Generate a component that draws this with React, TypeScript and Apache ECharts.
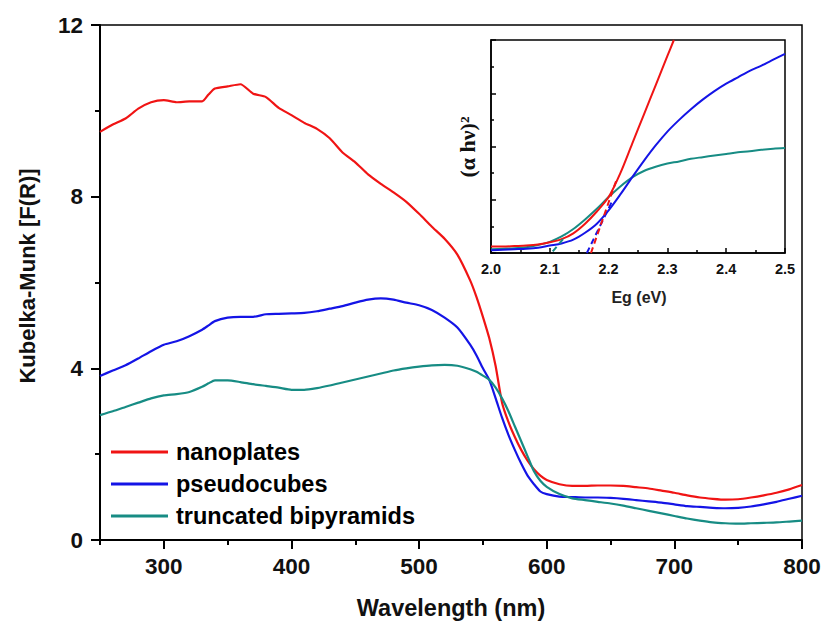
import React, { useEffect, useRef } from "react";
import * as echarts from "echarts";

// ---------- main chart data ----------
const wavelengths = [
  250, 260, 270, 280, 290, 300, 310, 320, 330, 335, 340, 350, 360, 370, 380, 390, 400,
  410, 420, 430, 440, 450, 460, 470, 480, 490, 500, 510, 520, 530, 540, 545, 550,
  555, 560, 565, 570, 575, 580, 585, 590, 595, 600, 610, 620, 630, 640, 650, 660,
  670, 680, 690, 700, 710, 720, 730, 740, 750, 760, 770, 780, 790, 800,
];
const nanoplates = [
  9.51, 9.68, 9.82, 10.05, 10.2, 10.25, 10.2, 10.22, 10.22, 10.38, 10.52, 10.57, 10.62, 10.4, 10.32, 10.07, 9.9,
  9.72, 9.58, 9.36, 9.03, 8.8, 8.52, 8.3, 8.1, 7.88, 7.6, 7.3, 7.02, 6.65, 6.05, 5.66, 5.2,
  4.7, 4.05, 3.2, 2.75, 2.4, 2.1, 1.85, 1.65, 1.5, 1.4, 1.3, 1.26, 1.26, 1.27, 1.27, 1.26,
  1.23, 1.2, 1.15, 1.1, 1.04, 0.99, 0.96, 0.94, 0.95, 0.99, 1.04, 1.1, 1.18, 1.28,
];
const pseudocubes = [
  3.82, 3.95, 4.07, 4.23, 4.4, 4.55, 4.63, 4.75, 4.9, 5.0, 5.1, 5.18, 5.2, 5.2, 5.26, 5.27, 5.28,
  5.29, 5.33, 5.39, 5.45, 5.53, 5.6, 5.63, 5.6, 5.53, 5.47, 5.36, 5.18, 4.95, 4.55, 4.3, 4.0,
  3.73, 3.3, 2.85, 2.45, 2.1, 1.78, 1.5, 1.3, 1.13, 1.07, 1.01, 1.0, 0.99, 0.99, 0.98, 0.96,
  0.93, 0.9, 0.87, 0.83, 0.79, 0.77, 0.75, 0.74, 0.75, 0.78, 0.83, 0.89, 0.96, 1.03,
];
const bipyramids = [
  2.91, 3.0, 3.1, 3.2, 3.3, 3.37, 3.4, 3.45, 3.57, 3.65, 3.72, 3.72, 3.68, 3.63, 3.59, 3.55, 3.5,
  3.5, 3.54, 3.6, 3.67, 3.74, 3.81, 3.88, 3.95, 4.0, 4.04, 4.07, 4.08, 4.06, 3.98, 3.92, 3.83,
  3.73, 3.55, 3.3, 3.0, 2.65, 2.3, 1.95, 1.6, 1.38, 1.24, 1.07, 0.97, 0.93, 0.89, 0.85, 0.8,
  0.74, 0.68, 0.62, 0.56, 0.5, 0.45, 0.41, 0.39, 0.38, 0.39, 0.4, 0.41, 0.43, 0.45,
];
const seriesNames = ["nanoplates", "pseudocubes", "truncated bipyramids"];
const xMajorTicks = [300, 400, 500, 600, 700, 800];

// ---------- inset data ----------
const insetEg = [
  2.0, 2.02, 2.04, 2.06, 2.08, 2.1, 2.12, 2.14, 2.16, 2.18, 2.2, 2.22, 2.24,
  2.26, 2.28, 2.3, 2.32, 2.34, 2.36, 2.38, 2.4, 2.42, 2.44, 2.46, 2.48, 2.5,
];
const insetRedEg = [2.0, 2.02, 2.04, 2.06, 2.08, 2.1, 2.12, 2.14, 2.16, 2.18, 2.2, 2.22, 2.24, 2.26, 2.28, 2.3, 2.311];
const insetRed = [0.12, 0.12, 0.13, 0.14, 0.16, 0.2, 0.26, 0.37, 0.55, 0.78, 1.05, 1.5, 2.05, 2.6, 3.15, 3.7, 4.0];
const insetBlue = [
  0.05, 0.06, 0.07, 0.08, 0.1, 0.14, 0.18, 0.25, 0.38, 0.55, 0.8, 1.1, 1.42,
  1.73, 2.02, 2.28, 2.5, 2.7, 2.88, 3.04, 3.18, 3.3, 3.42, 3.52, 3.63, 3.74,
];
const insetTeal = [
  0.07, 0.08, 0.09, 0.11, 0.15, 0.21, 0.31, 0.45, 0.63, 0.83, 1.05, 1.25, 1.42,
  1.54, 1.62, 1.68, 1.72, 1.77, 1.8, 1.83, 1.86, 1.89, 1.91, 1.94, 1.96, 1.97,
];
// tangent (extrapolation) lines
const tangentRedEg = [2.17, 2.213];
const tangentRed = [0.0, 1.36];
const tangentBlueEg = [2.163, 2.205];
const tangentBlue = [0.0, 0.95];
const tangentTealEg = [2.105, 2.127];
const tangentTeal = [0.03, 0.32];

const RED = "#f01414";
const BLUE = "#1414e6";
const TEAL = "#178c84";
const FONT = "'Liberation Sans', Arial, sans-serif";

const zip = (xs: number[], ys: number[]) => xs.map((x, i) => [x, ys[i]]);

export default function App() {
  const ref = useRef<HTMLDivElement>(null);
  useEffect(() => {
    if (!ref.current) return;
    const chart = echarts.init(ref.current, undefined, { renderer: "svg" });
    const axisLine = { show: true, lineStyle: { color: "#000", width: 2 } };
    const mainLine = (name: string, ys: number[], color: string) => ({
      name,
      type: "line",
      xAxisIndex: 0,
      yAxisIndex: 0,
      data: zip(wavelengths, ys),
      showSymbol: false,
      smooth: 0.2,
      lineStyle: { color, width: 2.2 },
      itemStyle: { color },
      z: 3,
    });
    const insetLine = (name: string, xs: number[], ys: number[], color: string, dashed = false) => ({
      name,
      type: "line",
      xAxisIndex: 2,
      yAxisIndex: 1,
      data: zip(xs, ys),
      showSymbol: false,
      smooth: dashed ? false : 0.3,
      clip: true,
      lineStyle: { color, width: 2, type: dashed ? [6, 4] : "solid" },
      itemStyle: { color },
      z: 3,
    });
    chart.setOption({
      animation: false,
      backgroundColor: "#fff",
      grid: [
        { left: 100, right: 24, top: 25, bottom: 86, show: true, borderColor: "#000", borderWidth: 1.5 },
        { left: 491, right: 41, top: 40, bottom: 373, show: true, borderColor: "#000", borderWidth: 1.5 },
      ],
      xAxis: [
        {
          type: "value",
          gridIndex: 0,
          min: 250,
          max: 800,
          interval: 50,
          position: "bottom",
          axisLine,
          axisTick: { show: true, length: 5, lineStyle: { color: "#000", width: 2 } },
          axisLabel: { show: false },
          splitLine: { show: false },
        },
        {
          type: "value",
          gridIndex: 0,
          min: 250,
          max: 800,
          position: "bottom",
          axisLine: { show: false },
          axisTick: { show: true, length: 9, customValues: xMajorTicks, lineStyle: { color: "#000", width: 2 } },
          axisLabel: {
            show: true,
            customValues: xMajorTicks,
            margin: 15,
            fontSize: 22.5,
            fontWeight: "bold",
            fontFamily: FONT,
            color: "#111",
          },
          splitLine: { show: false },
        },
        {
          type: "value",
          gridIndex: 1,
          min: 2.0,
          max: 2.5,
          interval: 0.1,
          position: "bottom",
          axisLine: { show: true, lineStyle: { color: "#000", width: 1.5 } },
          axisTick: { show: true, inside: true, length: 5, lineStyle: { color: "#000", width: 1.5 } },
          minorTick: { show: true, splitNumber: 2, length: 3, lineStyle: { color: "#000", width: 1.5 } },
          axisLabel: {
            margin: 8,
            fontSize: 14.5,
            fontWeight: "bold",
            fontFamily: FONT,
            color: "#111",
            formatter: (v: number) => v.toFixed(1),
          },
          splitLine: { show: false },
        },
      ],
      yAxis: [
        {
          type: "value",
          gridIndex: 0,
          min: 0,
          max: 12,
          interval: 4,
          axisLine,
          axisTick: { show: true, length: 9, lineStyle: { color: "#000", width: 2 } },
          minorTick: { show: true, splitNumber: 2, length: 5, lineStyle: { color: "#000", width: 2 } },
          axisLabel: { margin: 17, fontSize: 22.5, fontWeight: "bold", fontFamily: FONT, color: "#111" },
          splitLine: { show: false },
        },
        {
          type: "value",
          gridIndex: 1,
          min: 0,
          max: 4,
          interval: 1,
          axisLine: { show: true, lineStyle: { color: "#000", width: 1.5 } },
          axisTick: { show: true, inside: true, length: 5, lineStyle: { color: "#000", width: 1.5 } },
          minorTick: { show: true, splitNumber: 2, length: 3, lineStyle: { color: "#000", width: 1.5 } },
          axisLabel: { show: false },
          splitLine: { show: false },
        },
      ],
      legend: {
        data: seriesNames,
        orient: "vertical",
        left: 111,
        top: 440,
        padding: 0,
        icon: "rect",
        itemWidth: 57,
        itemHeight: 3,
        itemGap: 8,
        textStyle: {
          fontSize: 23.5,
          fontWeight: "bold",
          fontFamily: FONT,
          color: "#000",
          padding: [0, 0, 0, 3],
        },
      },
      graphic: [
        {
          type: "text",
          x: 27,
          y: 276,
          rotation: Math.PI / 2,
          style: {
            text: "Kubelka-Munk [F(R)]",
            fontSize: 22,
            fontWeight: "bold",
            fontFamily: FONT,
            fill: "#111",
            align: "center",
            verticalAlign: "middle",
          },
        },
        {
          type: "text",
          x: 451,
          y: 608,
          style: {
            text: "Wavelength (nm)",
            fontSize: 23.5,
            fontWeight: "bold",
            fontFamily: FONT,
            fill: "#111",
            align: "center",
            verticalAlign: "middle",
          },
        },
        {
          type: "text",
          x: 639,
          y: 297,
          style: {
            text: "Eg (eV)",
            fontSize: 16,
            fontWeight: "bold",
            fontFamily: FONT,
            fill: "#222",
            align: "center",
            verticalAlign: "middle",
          },
        },
        {
          type: "text",
          x: 467,
          y: 147,
          rotation: Math.PI / 2,
          style: {
            text: "(α hν)²",
            fontSize: 22,
            fontWeight: "bold",
            fontFamily: "'Liberation Serif', 'Times New Roman', serif",
            fill: "#111",
            align: "center",
            verticalAlign: "middle",
          },
        },
      ],
      series: [
        mainLine(seriesNames[0], nanoplates, RED),
        mainLine(seriesNames[1], pseudocubes, BLUE),
        mainLine(seriesNames[2], bipyramids, TEAL),
        insetLine("inset-teal", insetEg, insetTeal, TEAL),
        insetLine("inset-blue", insetEg, insetBlue, BLUE),
        insetLine("inset-red", insetRedEg, insetRed, RED),
        insetLine("tangent-teal", tangentTealEg, tangentTeal, TEAL, true),
        insetLine("tangent-blue", tangentBlueEg, tangentBlue, BLUE, true),
        insetLine("tangent-red", tangentRedEg, tangentRed, RED, true),
      ],
    });
    return () => chart.dispose();
  }, []);
  return <div ref={ref} style={{ width: 826, height: 626, position: "absolute", left: 0, top: 0 }} />;
}
